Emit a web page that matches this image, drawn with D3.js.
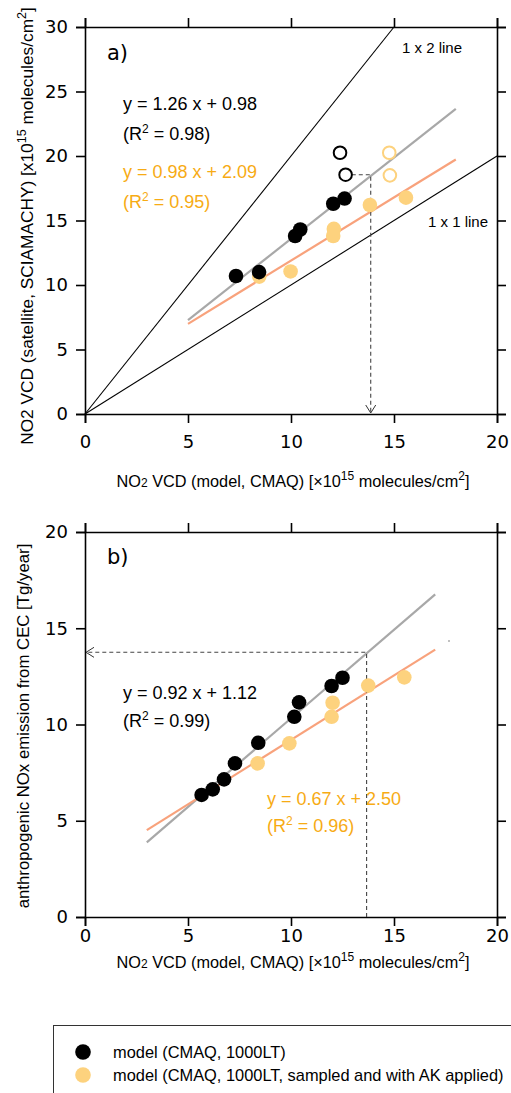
<!DOCTYPE html>
<html>
<head>
<meta charset="utf-8">
<script src="https://cdn.jsdelivr.net/npm/d3@7"></script>
<style>
body { margin: 0; background: #fff; }
svg { display: block; }
.tick text { font-family: "DejaVu Sans", sans-serif; }
</style>
</head>
<body>
<svg id="svg" width="511" height="1093"></svg>
<script>
// data
const xTicks = [0, 5, 10, 15, 20];
const yTicksA = [0, 5, 10, 15, 20, 25, 30];
const yTicksB = [0, 5, 10, 15, 20];

// panel a: model x vs satellite y
const aModel = [[7.33, 10.7], [8.45, 11.0], [10.2, 13.8], [10.45, 14.3], [12.05, 16.3], [12.6, 16.7]];
const aModelOpen = [[12.38, 20.25], [12.65, 18.55]];
const aSampled = [[8.46, 10.65], [9.98, 11.05], [12.08, 14.35], [12.05, 13.8], [13.83, 16.2], [15.58, 16.77]];
const aSampledOpen = [[14.77, 20.25], [14.8, 18.5]];
const aFitModel = {slope: 1.26, icpt: 0.98, x0: 5, x1: 18};
const aFitSampled = {slope: 0.98, icpt: 2.09, x0: 5, x1: 18};

// panel b: model x vs emission y
const bModel = [[5.66, 6.34], [6.2, 6.63], [6.75, 7.15], [7.28, 7.98], [8.41, 9.05], [10.16, 10.4], [10.39, 11.15], [11.97, 12.0], [12.5, 12.43]];
const bSampled = [[8.38, 7.98], [9.92, 9.02], [11.97, 10.4], [12.02, 11.13], [13.75, 12.02], [15.5, 12.45]];
const bFitModel = {slope: 0.92, icpt: 1.12, x0: 3, x1: 17};
const bFitSampled = {slope: 0.67, icpt: 2.50, x0: 3, x1: 17};

const legendItems = ["model (CMAQ, 1000LT)", "model (CMAQ, 1000LT, sampled and with AK applied)"];

const C_BLACK = "#000";
const C_FILL = "#fdd27e";
const C_TEXT = "#f7ab14";
const C_LINE = "#f8a27c";
const C_GRAY = "#a8a8a8";
const SANS = "'Liberation Sans', Arial, Helvetica, sans-serif";

const svg = d3.select("#svg");

const defs = svg.append("defs");
defs.append("marker").attr("id", "arrow")
  .attr("viewBox", "-10 -6 12 12").attr("refX", 0).attr("refY", 0)
  .attr("markerWidth", 12).attr("markerHeight", 12)
  .attr("markerUnits", "userSpaceOnUse").attr("orient", "auto")
  .append("path").attr("d", "M-8,-5 L0,0 L-8,5")
  .attr("fill", "none").attr("stroke", "#333").attr("stroke-width", 1);

let makePanel = (top, bottom, yMax, yTicks, xPad) => {
  const x = d3.scaleLinear().domain([0, 20]).range([85, 497]);
  const y = d3.scaleLinear().domain([0, yMax]).range([bottom, top]);
  const g = svg.append("g");
  const tick = 9;
  g.append("g").attr("transform", `translate(0,${bottom})`)
    .call(d3.axisBottom(x).tickValues(xTicks).tickSize(tick).tickPadding(xPad).tickFormat(d3.format("d")));
  g.append("g").attr("transform", `translate(0,${top})`)
    .call(d3.axisTop(x).tickValues(xTicks).tickSize(tick).tickFormat(""));
  g.append("g").attr("transform", `translate(85,0)`)
    .call(d3.axisLeft(y).tickValues(yTicks).tickSize(tick).tickPadding(8).tickFormat(d3.format("d")));
  g.append("g").attr("transform", `translate(497,0)`)
    .call(d3.axisRight(y).tickValues(yTicks).tickSize(tick).tickFormat(""));
  g.selectAll(".domain").attr("stroke", "#000").attr("stroke-width", 1.6);
  g.selectAll(".tick line").attr("stroke", "#000").attr("stroke-width", 1.6);
  g.selectAll(".tick text").attr("font-size", 18).attr("fill", "#000");
  return {x, y, g};
};

let fitLine = (p, f, color) => {
  p.g.append("line")
    .attr("x1", p.x(f.x0)).attr("y1", p.y(f.slope * f.x0 + f.icpt))
    .attr("x2", p.x(f.x1)).attr("y2", p.y(f.slope * f.x1 + f.icpt))
    .attr("stroke", color).attr("stroke-width", 2.2);
};

let dots = (p, data, color, open) => {
  p.g.selectAll(null).data(data).enter().append("circle")
    .attr("cx", d => p.x(d[0])).attr("cy", d => p.y(d[1]))
    .attr("r", open ? 6.3 : 7.3)
    .attr("fill", open ? "none" : color)
    .attr("stroke", open ? color : "none")
    .attr("stroke-width", 2);
};

let addText = (x, y, str, opts = {}) => {
  return svg.append("text").attr("x", x).attr("y", y)
    .attr("font-family", opts.family || SANS)
    .attr("font-size", opts.size || 14)
    .attr("fill", opts.fill || "#000")
    .attr("text-anchor", opts.anchor || "start")
    .text(str);
};

let r2Text = (x, y, val, fill) => {
  const t = svg.append("text").attr("x", x).attr("y", y)
    .attr("font-family", SANS)
    .attr("font-size", 18).attr("fill", fill);
  t.append("tspan").text("(R");
  t.append("tspan").attr("dy", -7).attr("font-size", 12).text("2");
  t.append("tspan").attr("dy", 7).text(` = ${val})`);
};

let xLabel = (cy) => {
  const t = svg.append("text").attr("x", 293).attr("y", cy)
    .attr("text-anchor", "middle")
    .attr("font-family", SANS)
    .attr("font-size", 16.3);
  t.append("tspan").text("NO");
  t.append("tspan").attr("font-size", 12).text("2");
  t.append("tspan").text(" VCD (model, CMAQ) [\u00d710");
  t.append("tspan").attr("dy", -7).attr("font-size", 12).text("15");
  t.append("tspan").attr("dy", 7).text(" molecules/cm");
  t.append("tspan").attr("dy", -7).attr("font-size", 12).text("2");
  t.append("tspan").attr("dy", 7).text("]");
};

// ---------- panel a ----------
const pa = makePanel(27, 414, 30, yTicksA, 12);
// 1x1 and 1x2 reference lines
pa.g.append("line").attr("x1", pa.x(0)).attr("y1", pa.y(0)).attr("x2", pa.x(20)).attr("y2", pa.y(20))
  .attr("stroke", "#000").attr("stroke-width", 1.1);
pa.g.append("line").attr("x1", pa.x(0)).attr("y1", pa.y(0)).attr("x2", pa.x(15)).attr("y2", pa.y(30))
  .attr("stroke", "#000").attr("stroke-width", 1.1);
fitLine(pa, aFitModel, C_GRAY);
fitLine(pa, aFitSampled, C_LINE);
// dashed guide from open circle down to x axis
pa.g.append("path")
  .attr("d", `M${pa.x(12.95)},${pa.y(18.55)} H${pa.x(13.87)} V${pa.y(0) - 1}`)
  .attr("fill", "none").attr("stroke", "#444").attr("stroke-width", 1.1)
  .attr("stroke-dasharray", "4,3").attr("marker-end", "url(#arrow)");
dots(pa, aSampled, C_FILL, false);
dots(pa, aModel, C_BLACK, false);
dots(pa, aModelOpen, C_BLACK, true);
dots(pa, aSampledOpen, C_FILL, true);

addText(107, 60, "a)", {size: 21, family: "'DejaVu Sans', sans-serif"});
addText(402, 53, "1 x 2 line", {size: 15});
addText(428, 227, "1 x 1 line", {size: 15});
addText(123, 110, "y = 1.26 x + 0.98", {size: 18});
r2Text(123, 140, "0.98", "#000");
addText(123, 178, "y = 0.98 x + 2.09", {size: 18, fill: C_TEXT});
r2Text(123, 208, "0.95", C_TEXT);

xLabel(487);

// y label a
{
  const t = svg.append("text").attr("transform", "translate(33,226) rotate(-90)")
    .attr("text-anchor", "middle")
    .attr("font-family", SANS)
    .attr("font-size", 17.3);
  t.append("tspan").text("NO2 VCD (satellite, SCIAMACHY) [x10");
  t.append("tspan").attr("dy", -7).attr("font-size", 12.5).text("15");
  t.append("tspan").attr("dy", 7).text(" molecules/cm");
  t.append("tspan").attr("dy", -7).attr("font-size", 12.5).text("2");
  t.append("tspan").attr("dy", 7).text("]");
}

// ---------- panel b ----------
const pb = makePanel(532, 917, 20, yTicksB, 3);
fitLine(pb, bFitModel, C_GRAY);
fitLine(pb, bFitSampled, C_LINE);
pb.g.append("path")
  .attr("d", `M${pb.x(13.67)},${pb.y(0)} V${pb.y(13.75)} H${pb.x(0) + 1}`)
  .attr("fill", "none").attr("stroke", "#444").attr("stroke-width", 1.1)
  .attr("stroke-dasharray", "4,3").attr("marker-end", "url(#arrow)");
dots(pb, bSampled, C_FILL, false);
dots(pb, bModel, C_BLACK, false);
pb.g.append("circle").attr("cx", 449).attr("cy", 641).attr("r", 0.7).attr("fill", "#555");

addText(107, 564, "b)", {size: 21, family: "'DejaVu Sans', sans-serif"});
addText(123, 699, "y = 0.92 x + 1.12", {size: 18});
r2Text(123, 727, "0.99", "#000");
addText(267, 805, "y = 0.67 x + 2.50", {size: 18, fill: C_TEXT});
r2Text(267, 832, "0.96", C_TEXT);

xLabel(968);

svg.append("text").attr("transform", "translate(29,726) rotate(-90)")
  .attr("text-anchor", "middle")
  .attr("font-family", SANS)
  .attr("font-size", 16.8)
  .text("anthropogenic NOx emission from CEC [Tg/year]");

// ---------- legend ----------
svg.append("rect").attr("x", 53.5).attr("y", 1025.5).attr("width", 470).attr("height", 80)
  .attr("fill", "none").attr("stroke", "#333").attr("stroke-width", 1);
const legColors = [C_BLACK, C_FILL];
legendItems.forEach((s, i) => {
  svg.append("circle").attr("cx", 83).attr("cy", 1052 + i * 23).attr("r", 7.8).attr("fill", legColors[i]);
  addText(113, 1058 + i * 23, s, {size: 16.4});
});
</script>
</body>
</html>
